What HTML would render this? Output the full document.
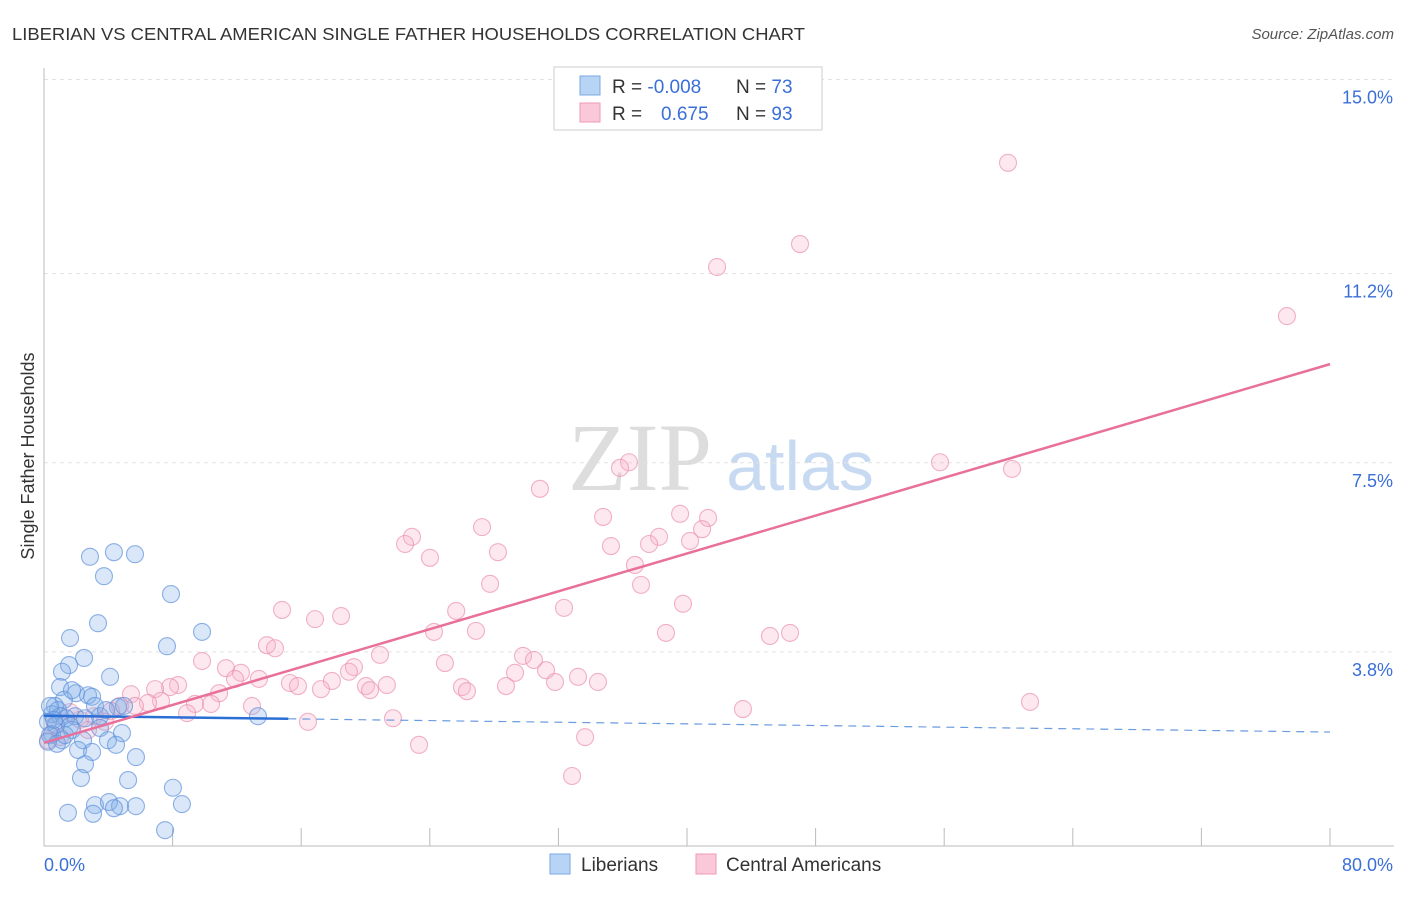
<!DOCTYPE html>
<html><head><meta charset="utf-8"><style>
body{margin:0;background:#fff;font-family:"Liberation Sans",sans-serif;}
</style></head><body>
<svg width="1406" height="892" xmlns="http://www.w3.org/2000/svg" id="chart" font-family="Liberation Sans, sans-serif">
<text x="12" y="40" font-size="17.5" fill="#333" textLength="793" lengthAdjust="spacingAndGlyphs">LIBERIAN VS CENTRAL AMERICAN SINGLE FATHER HOUSEHOLDS CORRELATION CHART</text>
<text x="1394" y="39" font-size="15" fill="#555" font-style="italic" text-anchor="end">Source: ZipAtlas.com</text>
<text x="640" y="490" font-size="96" fill="#ddd" font-family="Liberation Serif, serif" text-anchor="middle">ZIP</text>
<text x="800" y="490" font-size="70" fill="#c8daf2" text-anchor="middle">atlas</text>
<text x="34" y="456" font-size="18" fill="#333" text-anchor="middle" transform="rotate(-90 34 456)">Single Father Households</text>
<g id="grid"></g><g id="axes"></g><g id="marks"></g><g id="trends"></g>
<g>
<rect x="554" y="67" width="268" height="63" fill="#fff" stroke="#ccc"/>
<rect x="580" y="76" width="20" height="19" fill="#b8d4f5" stroke="#7aa8e4"/>
<rect x="580" y="103" width="20" height="19" fill="#fac8d8" stroke="#ee9ab8"/>
<text x="612" y="93" font-size="19" fill="#333">R = <tspan fill="#3a6fd8">-0.008</tspan></text>
<text x="736" y="93" font-size="19" fill="#333">N = <tspan fill="#3a6fd8">73</tspan></text>
<text x="612" y="120" font-size="19" fill="#333">R = <tspan fill="#3a6fd8" x="661">0.675</tspan></text>
<text x="736" y="120" font-size="19" fill="#333">N = <tspan fill="#3a6fd8">93</tspan></text>
</g>
<g>
<rect x="550" y="854" width="20" height="20" fill="#b8d4f5" stroke="#7aa8e4"/>
<text x="581" y="871" font-size="19" fill="#333">Liberians</text>
<rect x="696" y="854" width="20" height="20" fill="#fac8d8" stroke="#ee9ab8"/>
<text x="726" y="871" font-size="19" fill="#333">Central Americans</text>
</g>
</svg>
<script>
const yTicks=[3.8,7.5,11.2,15.0];
const yTickLabels=["3.8%","7.5%","11.2%","15.0%"];
const xTickLabels=["0.0%","80.0%"];
const blueX=[2.86,4.35,5.66,3.73,7.90,3.36,1.62,7.65,9.83,2.49,1.56,4.11,1.12,1.00,1.99,2.74,2.99,1.24,0.68,3.17,0.87,4.60,0.50,1.00,1.93,1.37,2.55,0.25,0.75,1.62,3.48,13.31,3.48,0.50,1.74,1.12,2.43,3.98,4.85,4.48,2.12,2.99,5.72,2.55,2.30,5.23,8.02,1.49,3.17,4.04,4.73,5.72,3.05,4.35,8.58,7.53,0.37,0.25,0.81,3.86,4.98,1.74,0.37,0.62,1.31];
const blueY=[5.66,5.75,5.71,5.28,4.93,4.36,4.07,3.91,4.19,3.68,3.54,3.31,3.41,3.11,2.99,2.95,2.92,2.86,2.74,2.74,2.66,2.72,2.58,2.54,2.54,2.50,2.50,2.43,2.37,2.35,2.54,2.54,2.31,2.19,2.27,2.07,2.07,2.07,2.21,1.98,1.88,1.84,1.74,1.60,1.33,1.29,1.14,0.65,0.80,0.86,0.78,0.78,0.63,0.74,0.82,0.31,2.17,2.04,2.00,2.66,2.74,3.05,2.74,2.47,2.17];
const pinkX=[59.97,47.03,41.87,77.32,55.74,60.22,36.39,35.83,30.85,27.25,22.89,22.46,28.24,24.01,34.78,39.57,41.31,40.94,40.19,38.26,37.64,35.27,36.76,27.75,37.14,39.75,32.35,25.64,14.81,16.86,18.48,24.26,26.87,38.69,45.16,46.41,13.87,14.37,20.90,24.94,29.80,30.48,31.23,29.30,31.79,33.22,34.46,28.74,26.00,26.31,19.28,18.97,17.91,21.33,20.03,20.28,15.30,15.80,17.23,9.83,11.32,12.25,11.88,13.37,8.34,7.84,6.91,5.41,10.89,7.28,6.47,9.39,10.39,8.90,12.94,4.73,4.17,16.42,21.71,23.33,33.66,32.85,43.48,61.34,1.00,2.24,3.11,1.62,0.68,3.79,5.66,2.74,0.25];
const pinkY=[13.37,11.78,11.33,10.37,7.51,7.38,7.51,7.40,6.99,6.24,6.05,5.91,5.75,5.64,6.44,6.50,6.42,6.20,5.97,6.05,5.91,5.87,5.50,5.13,5.11,4.74,4.66,4.60,4.62,4.44,4.50,4.19,4.21,4.17,4.11,4.17,3.93,3.87,3.74,3.58,3.72,3.64,3.44,3.39,3.21,3.31,3.21,3.13,3.11,3.03,3.50,3.41,3.23,3.15,3.13,3.05,3.19,3.13,3.07,3.62,3.48,3.39,3.27,3.27,3.15,3.11,3.07,2.97,2.99,2.84,2.80,2.78,2.78,2.60,2.74,2.74,2.64,2.43,2.50,1.98,2.13,1.37,2.68,2.82,2.13,2.47,2.54,2.62,2.37,2.43,2.74,2.27,2.07];
const blueTrend=[2.55,2.23];
const pinkTrend=[2.02,9.43];
const NS="http://www.w3.org/2000/svg";
const X0=44,X1=1330,Y0=846,PXY=51.1;
function sx(v){return X0+(X1-X0)*v/80;}
function sy(v){return Y0-v*PXY;}
function mk(tag,attrs,parent){const e=document.createElementNS(NS,tag);for(const k in attrs)e.setAttribute(k,attrs[k]);parent.appendChild(e);return e;}
const grid=document.getElementById('grid'),axes=document.getElementById('axes'),marks=document.getElementById('marks'),trends=document.getElementById('trends');
yTicks.forEach((t,i)=>{
 const l=mk('line',{x1:X0,x2:1394,y1:sy(t),y2:sy(t),stroke:'#e2e2e2','stroke-dasharray':'4 4'},grid);
 
 
 const tx=mk('text',{x:1393,y:sy(t)+24,'font-size':18,fill:'#3a6fd8','text-anchor':'end'},axes);
 tx.textContent=yTickLabels[i];
 
 
});
const ya=mk('line',{x1:X0,x2:X0,y1:68,y2:Y0,stroke:'#bbb'},axes);


const xa=mk('line',{x1:X0,x2:1394,y1:Y0,y2:Y0,stroke:'#bbb'},axes);


for(let i=1;i<=10;i++){
 const t=mk('line',{x1:sx(i*8),x2:sx(i*8),y1:Y0-18,y2:Y0,stroke:'#bbb'},axes);
 
 
}
[[0,'start',X0],[80,'end',1393]].forEach((d,i)=>{
 const tx=mk('text',{x:d[2],y:871,'font-size':18,fill:'#3a6fd8','text-anchor':d[1]},axes);
 tx.textContent=xTickLabels[i];
 
 
});
pinkX.forEach((x,i)=>{
 const c=mk('circle',{cx:sx(x),cy:sy(pinkY[i]),r:8.5,fill:'rgba(248,180,202,0.3)',stroke:'rgba(235,145,175,0.7)','stroke-width':1.1},marks);
 
 
});
blueX.forEach((x,i)=>{
 const c=mk('circle',{cx:sx(x),cy:sy(blueY[i]),r:8.5,fill:'rgba(130,175,232,0.3)',stroke:'rgba(95,145,220,0.7)','stroke-width':1.1},marks);
 
 
});
function bAt(x){return blueTrend[0]+(blueTrend[1]-blueTrend[0])*x/80;}
function pAt(x){return pinkTrend[0]+(pinkTrend[1]-pinkTrend[0])*x/80;}
const bs=mk('line',{x1:sx(0),y1:sy(bAt(0)),x2:sx(15.2),y2:sy(bAt(15.2)),stroke:'#2b6fd6','stroke-width':2.5},trends);


const bd=mk('line',{x1:sx(15.2),y1:sy(bAt(15.2)),x2:sx(80),y2:sy(bAt(80)),stroke:'#6b9be0','stroke-width':1.2,'stroke-dasharray':'8 6'},trends);


const pl=mk('line',{x1:sx(0),y1:sy(pAt(0)),x2:sx(80),y2:sy(pAt(80)),stroke:'#e8709a','stroke-width':2.5},trends);


</script>
</body></html>
